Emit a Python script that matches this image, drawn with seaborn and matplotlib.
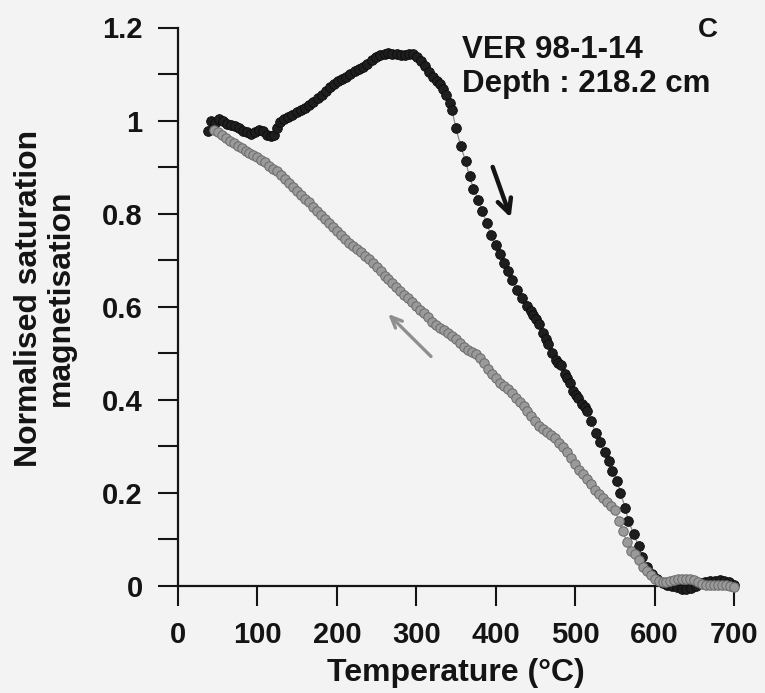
import matplotlib
matplotlib.use("Agg")
import matplotlib.pyplot as plt
import seaborn as sns
import numpy as np
import pandas as pd

# ---------------- data ----------------
heat_T = [38, 42, 47, 52, 57, 62, 67, 72, 77, 82, 87, 92, 97, 102, 107, 112, 117, 121, 125, 129,
          134, 139, 144, 150, 155, 160, 165, 170, 176, 181, 186, 191, 196, 202, 207, 212, 217, 223,
          228, 233, 238, 244, 249, 254, 260, 265, 270, 276, 281, 286, 291, 296, 301, 306, 311, 316,
          321, 326, 330, 334, 338, 342, 345, 350, 356, 362, 367, 372, 378, 383, 389, 394, 400, 405,
          411, 416, 421, 427, 433, 439, 444, 447, 451, 455, 459, 463, 466, 471, 476, 479, 482, 487,
          490, 493, 497, 501, 504, 509, 512, 515, 520, 526, 531, 537, 542, 547, 553, 557, 563, 567,
          574, 580, 584, 591, 597, 603, 610, 616, 622, 628, 634, 640, 646, 652, 658, 664, 670, 676,
          682, 688, 694, 700]
heat_M = [0.978, 1.000, 0.995, 1.004, 1.000, 0.993, 0.990, 0.988, 0.983, 0.978, 0.975, 0.972, 0.976,
          0.980, 0.978, 0.970, 0.966, 0.968, 0.985, 0.998, 1.004, 1.008, 1.012, 1.018, 1.022, 1.028,
          1.034, 1.040, 1.048, 1.055, 1.063, 1.072, 1.078, 1.084, 1.089, 1.094, 1.100, 1.106, 1.111,
          1.116, 1.122, 1.130, 1.136, 1.140, 1.143, 1.145, 1.144, 1.142, 1.140, 1.141, 1.144, 1.142,
          1.136, 1.128, 1.118, 1.104, 1.094, 1.086, 1.078, 1.068, 1.054, 1.038, 1.022, 0.983, 0.945,
          0.913, 0.880, 0.854, 0.830, 0.806, 0.779, 0.754, 0.732, 0.713, 0.694, 0.677, 0.657, 0.637,
          0.618, 0.601, 0.590, 0.582, 0.573, 0.564, 0.544, 0.530, 0.521, 0.501, 0.486, 0.480, 0.474,
          0.456, 0.446, 0.436, 0.419, 0.410, 0.403, 0.392, 0.384, 0.376, 0.355, 0.329, 0.309, 0.288,
          0.268, 0.247, 0.226, 0.200, 0.168, 0.140, 0.111, 0.085, 0.062, 0.041, 0.026, 0.014, 0.007,
          0.003, 0.000, -0.003, -0.006, -0.007, -0.005, 0.000, 0.006, 0.009, 0.010, 0.011, 0.012,
          0.011, 0.008, 0.002]

cool_T = [45, 50, 55, 60, 65, 70, 75, 80, 85, 90, 95, 100, 105, 110, 115, 120, 125, 130, 135, 140,
          145, 150, 155, 160, 165, 170, 175, 180, 185, 190, 195, 200, 205, 210, 215, 220, 225, 230,
          235, 240, 245, 250, 255, 260, 265, 270, 275, 280, 285, 290, 295, 300, 305, 310, 315, 320,
          325, 330, 335, 340, 345, 350, 355, 360, 365, 370, 375, 380, 385, 390, 395, 400, 405, 410,
          415, 420, 425, 430, 435, 440, 445, 450, 455, 460, 465, 470, 475, 480, 485, 490, 495, 500,
          505, 510, 515, 520, 525, 530, 535, 540, 545, 550, 555, 560, 565, 570, 575, 580, 585, 590,
          595, 600, 605, 610, 615, 620, 625, 630, 635, 640, 645, 650, 655, 660, 665, 670, 675, 680,
          685, 690, 695, 700]
cool_M = [0.980, 0.975, 0.970, 0.963, 0.957, 0.951, 0.946, 0.941, 0.935, 0.930, 0.925, 0.921, 0.916,
          0.910, 0.903, 0.897, 0.891, 0.883, 0.875, 0.866, 0.858, 0.849, 0.840, 0.832, 0.824, 0.815,
          0.806, 0.797, 0.789, 0.780, 0.771, 0.763, 0.755, 0.746, 0.738, 0.731, 0.724, 0.717, 0.710,
          0.703, 0.695, 0.686, 0.676, 0.667, 0.659, 0.651, 0.643, 0.634, 0.626, 0.618, 0.610, 0.602,
          0.594, 0.587, 0.578, 0.568, 0.561, 0.555, 0.549, 0.543, 0.537, 0.530, 0.522, 0.514, 0.508,
          0.503, 0.499, 0.490, 0.479, 0.466, 0.455, 0.446, 0.437, 0.430, 0.423, 0.415, 0.405, 0.396,
          0.386, 0.376, 0.365, 0.354, 0.344, 0.337, 0.331, 0.325, 0.317, 0.308, 0.298, 0.287, 0.275,
          0.262, 0.250, 0.240, 0.230, 0.219, 0.207, 0.198, 0.190, 0.181, 0.172, 0.164, 0.140, 0.118,
          0.095, 0.076, 0.068, 0.055, 0.041, 0.032, 0.023, 0.016, 0.010, 0.008, 0.009, 0.011, 0.013,
          0.014, 0.015, 0.016, 0.015, 0.012, 0.008, 0.004, 0.002, 0.002, 0.003, 0.002, 0.003, 0.002,
          0.000, -0.002]

x_ticks = [0, 100, 200, 300, 400, 500, 600, 700]
y_ticks = [0, 0.2, 0.4, 0.6, 0.8, 1.0, 1.2]
y_tick_labels = ["0", "0.2", "0.4", "0.6", "0.8", "1", "1.2"]
x_title = "Temperature (°C)"
y_title = "Normalised saturation\nmagnetisation"
sample_label = "VER 98-1-14"
depth_label = "Depth : 218.2 cm"
panel_label = "C"

# ---------------- style ----------------
sns.set_style("ticks")
plt.rcParams["font.family"] = ["Liberation Sans", "DejaVu Sans"]
plt.rcParams["font.weight"] = "bold"

bg = "#f3f3f3"
ink = "#141414"
fig = plt.figure(figsize=(7.65, 6.93), dpi=100, facecolor=bg)
ax = fig.add_axes([178 / 765, 1 - 586 / 693, (734 - 178) / 765, (586 - 27.5) / 693])
ax.set_facecolor(bg)

heat = pd.DataFrame({"T": heat_T, "M": heat_M})
cool = pd.DataFrame({"T": cool_T, "M": cool_M})

sns.lineplot(data=heat, x="T", y="M", ax=ax, estimator=None, sort=False,
             color="#8a8a8a", linewidth=0.9, marker="o", markersize=7.0,
             markerfacecolor="#1e1e1e", markeredgecolor="#0a0a0a", markeredgewidth=0.6,
             clip_on=False, zorder=3)
sns.lineplot(data=cool, x="T", y="M", ax=ax, estimator=None, sort=False,
             color="#8a8a8a", linewidth=0.9, marker="o", markersize=6.8,
             markerfacecolor="#9a9a9a", markeredgecolor="#6a6a6a", markeredgewidth=0.7,
             clip_on=False, zorder=4)

ax.set_xlim(0, 700)
ax.set_ylim(0, 1.2)
ax.set_xticks(x_ticks)
ax.set_xticklabels([str(v) for v in x_ticks])
ax.set_yticks(y_ticks)
ax.set_yticklabels(y_tick_labels)
ax.set_yticks([0.1, 0.3, 0.5, 0.7, 0.9, 1.1], minor=True)

for s in ["top", "right"]:
    ax.spines[s].set_visible(False)
for s in ["left", "bottom"]:
    ax.spines[s].set_linewidth(1.6)
    ax.spines[s].set_color(ink)
    ax.spines[s].set_zorder(2)

ax.tick_params(axis="both", which="both", direction="out", length=14.4, width=1.5,
               color=ink, labelsize=21, labelcolor=ink)
ax.tick_params(axis="y", which="both", pad=11)
ax.tick_params(axis="x", which="both", pad=11)
for lab in ax.get_xticklabels() + ax.get_yticklabels():
    lab.set_fontweight("bold")

ax.set_xlabel(x_title, fontsize=23, fontweight="bold", color=ink, labelpad=6)
ax.set_ylabel("")
fig.text(45 / 765, 1 - 298 / 693, y_title, rotation=90, ha="center", va="center",
         fontsize=23, fontweight="bold", color=ink, linespacing=1.08,
         multialignment="center")

ax.text(358, 1.134, sample_label, fontsize=22.5, fontweight="bold", color=ink,
        ha="left", va="baseline")
ax.text(358, 1.062, depth_label, fontsize=22.5, fontweight="bold", color=ink,
        ha="left", va="baseline")
ax.text(667, 1.179, panel_label, fontsize=20, fontweight="bold", color=ink,
        ha="center", va="baseline")

ax.annotate("", xy=(420, 0.786), xytext=(395, 0.906),
            arrowprops=dict(arrowstyle="->,head_length=1.0,head_width=0.5",
                            color=ink, lw=3.2))
ax.annotate("", xy=(262, 0.589), xytext=(321, 0.489),
            arrowprops=dict(arrowstyle="->,head_length=0.8,head_width=0.35",
                            color="#8f8f8f", lw=2.4))

fig.savefig("out.png", dpi=100, facecolor=bg)
